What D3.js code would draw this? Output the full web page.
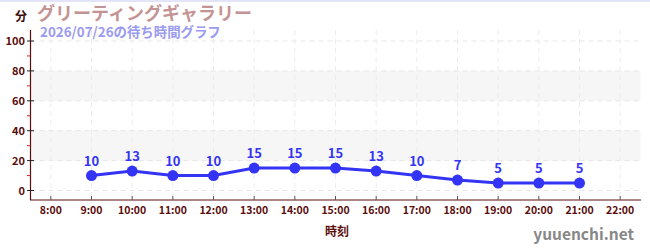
<!DOCTYPE html>
<html><head><meta charset="utf-8">
<script src="https://cdn.jsdelivr.net/npm/d3@7"></script>
<style>body{margin:0;background:#fff}svg{display:block}</style>
</head><body><svg id="c" width="650" height="250"></svg>
<script>
const hours = [9,10,11,12,13,14,15,16,17,18,19,20,21];
const waits = [10,13,10,10,15,15,15,13,10,7,5,5,5];
const xTicks = [8,9,10,11,12,13,14,15,16,17,18,19,20,21,22];
const yTicks = [0,20,40,60,80,100];
const yMinor = [10,30,50,70,90];
const bands = [[20,40],[60,80]];
const title = "グリーティングギャラリー";
const subtitle = "2026/07/26の待ち時間グラフ";
const yUnit = "分";
const xLabel = "時刻";
const credit = "yuuenchi.net";

(function(){
const svg = d3.select("#c");
const font = "'Noto Sans CJK JP','Noto Sans',sans-serif";
const x = d3.scaleLinear().domain([7.5,22.5]).range([30.5,640.5]);
const y = d3.scaleLinear().domain([0,100]).range([190.5,41]);
const plotTop = 30, plotBottom = 200;

svg.append("rect").attr("x",0).attr("y",0).attr("width",650).attr("height",2).attr("fill","#e4e4f8");

svg.selectAll(".band").data(bands).enter().append("rect")
  .attr("x",x(7.5)).attr("width",x(22.5)-x(7.5))
  .attr("y",d=>y(d[1])).attr("height",d=>y(d[0])-y(d[1]))
  .attr("fill","#f6f6f6");

svg.selectAll(".hg").data(yTicks).enter().append("line")
  .attr("x1",x(7.5)).attr("x2",x(22.5)).attr("y1",d=>y(d)).attr("y2",d=>y(d))
  .attr("stroke","#e6e6e6").attr("stroke-dasharray","5,4");
svg.selectAll(".vg").data(xTicks).enter().append("line")
  .attr("x1",d=>x(d)).attr("x2",d=>x(d)).attr("y1",plotTop).attr("y2",plotBottom)
  .attr("stroke","#ececec").attr("stroke-dasharray","5,4");

const axCol = "#5a0d0d";
svg.append("line").attr("x1",30.5).attr("x2",30.5).attr("y1",plotTop).attr("y2",plotBottom).attr("stroke",axCol).attr("stroke-width",1.2);
svg.selectAll(".ymin").data(yMinor).enter().append("line")
  .attr("x1",27).attr("x2",30.5).attr("y1",d=>y(d)).attr("y2",d=>y(d)).attr("stroke","#dd2222");
svg.selectAll(".ymaj").data(yTicks).enter().append("line")
  .attr("x1",27).attr("x2",34).attr("y1",d=>y(d)).attr("y2",d=>y(d)).attr("stroke","#222");
svg.selectAll(".ylab").data(yTicks).enter().append("text")
  .attr("x",25).attr("y",d=>y(d)+4).attr("text-anchor","end")
  .attr("font-family",font).attr("font-size",11).attr("font-weight","bold").attr("fill",axCol)
  .text(d=>d);

svg.append("line").attr("x1",30).attr("x2",641).attr("y1",plotBottom).attr("y2",plotBottom).attr("stroke",axCol).attr("stroke-width",1.2);
svg.selectAll(".xt").data(xTicks).enter().append("line")
  .attr("x1",d=>x(d)).attr("x2",d=>x(d)).attr("y1",plotBottom-4).attr("y2",plotBottom).attr("stroke","#555");
svg.selectAll(".xl").data(xTicks).enter().append("text")
  .attr("x",d=>x(d)).attr("y",plotBottom+14).attr("text-anchor","middle")
  .attr("font-family",font).attr("font-size",10.5).attr("font-weight","bold").attr("fill",axCol)
  .text(d=>d+":00");

const blue = "#3434f4";
const pts = hours.map((h,i)=>[h,waits[i]]);
svg.append("path").datum(pts)
  .attr("d",d3.line().x(d=>x(d[0])).y(d=>y(d[1])))
  .attr("fill","none").attr("stroke",blue).attr("stroke-width",3);
svg.selectAll(".pt").data(pts).enter().append("circle")
  .attr("cx",d=>x(d[0])).attr("cy",d=>y(d[1])).attr("r",5.5).attr("fill",blue);
svg.selectAll(".vl").data(pts).enter().append("text")
  .attr("x",d=>x(d[0])).attr("y",d=>y(d[1])-10).attr("text-anchor","middle")
  .attr("font-family",font).attr("font-size",13).attr("font-weight","bold").attr("fill",blue)
  .text(d=>d[1]);

svg.append("text").attr("x",15).attr("y",21).attr("font-family",font).attr("font-size",12).attr("font-weight","bold").attr("fill","#3a0a0a").text(yUnit);
svg.append("text").attr("x",37).attr("y",20).attr("font-family",font).attr("font-size",18).attr("font-weight","bold").attr("fill","#c49393").text(title);
svg.append("text").attr("x",40).attr("y",36.5).attr("font-family",font).attr("font-size",13.4).attr("font-weight","bold").attr("fill","#9a9af0").text(subtitle);
svg.append("text").attr("x",337).attr("y",236).attr("text-anchor","middle").attr("font-family",font).attr("font-size",12).attr("font-weight","bold").attr("fill",axCol).text(xLabel);
svg.append("text").attr("x",634).attr("y",240).attr("text-anchor","end").attr("font-family",font).attr("font-size",15.5).attr("font-weight","bold").attr("fill","#888").text(credit);
})();
</script></body></html>
